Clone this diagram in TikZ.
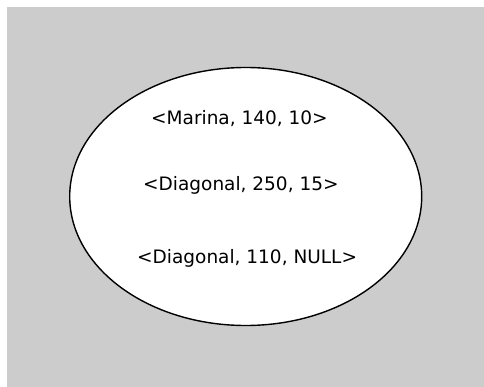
\documentclass[tikz,border=0pt]{standalone}
\usepackage{fontspec}
\setmainfont{DejaVu Sans}
\usepackage{tikz}
\usetikzlibrary{shapes.geometric}
\definecolor{backgray}{HTML}{CCCCCC}
\tikzset{
    backdrop/.style={fill=backgray, draw=none},
    relset/.style={ellipse, draw=black, fill=white, line width=1.4pt, minimum width=352pt, minimum height=258pt, inner sep=0pt},
    tuple/.style={anchor=base west, inner sep=0pt, font=\fontsize{18.5}{21}\selectfont}
}
\begin{document}
\begin{tikzpicture}[x=1pt, y=-1pt]
    \useasboundingbox (0,0) rectangle (484,387);
    \fill[backdrop] (7,7) rectangle (484,387);
    \node[relset] (rel) at (245.7,196.5) {};
    % tuples of the relation
    \node[tuple] (marina) at (151,125) {<Marina, 140, 10>};
    \node[tuple] (diagA) at (143,191) {<Diagonal, 250, 15>};
    \node[tuple] (diagB) at (137,263) {<Diagonal, 110, NULL>};
\end{tikzpicture}
\end{document}
